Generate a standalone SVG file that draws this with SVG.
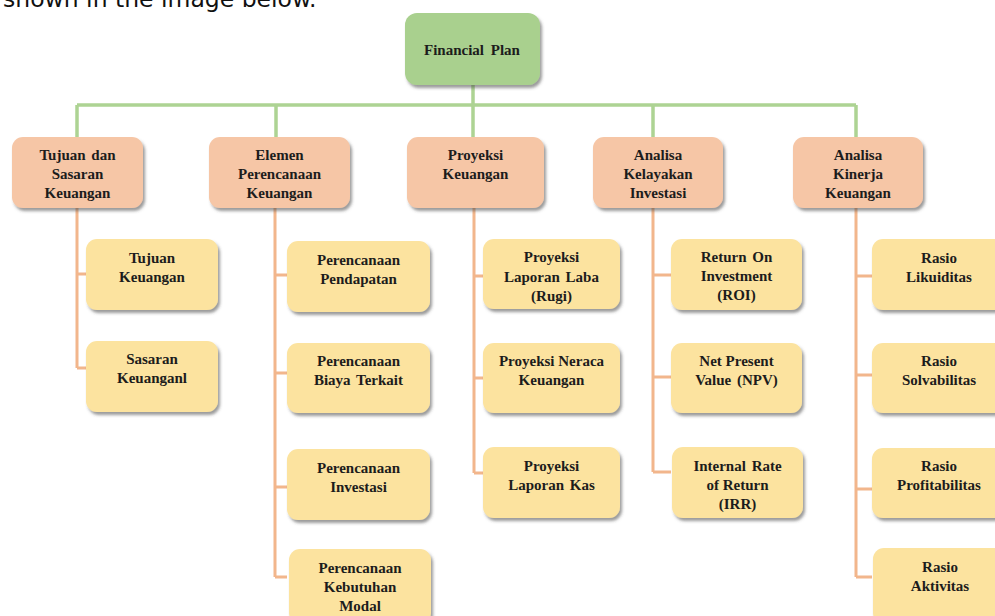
<svg xmlns="http://www.w3.org/2000/svg" width="995" height="616" viewBox="0 0 995 616">
<defs>
<filter id="sh" x="-10%" y="-10%" width="125%" height="130%">
<feDropShadow dx="2" dy="3" stdDeviation="1.6" flood-color="#4a4a4a" flood-opacity="0.55"/>
</filter>
<style>
.root{fill:#A9D08E;filter:url(#sh)}
.l1{fill:#F6C6A6;filter:url(#sh)}
.l2{fill:#FCE39F;filter:url(#sh)}
.t{font-family:"Liberation Serif","Times New Roman",serif;font-weight:bold;font-size:15px;fill:#1c1c1c;text-anchor:middle}
.g{stroke:#ADD393;stroke-width:3.5;fill:none}
.s{stroke:#F2B68C;stroke-width:3;fill:none}
.cap{font-family:"DejaVu Sans",Verdana,sans-serif;font-size:23.5px;fill:#111}
</style>
</defs>
<rect width="995" height="616" fill="#ffffff"/>
<text class="cap" x="3" y="7">shown in the image below.</text>

<g id="connectors">
<path class="g" d="M473 85V105M77 105H856M77 105V137M276 105V137M473 105V137M653 105V137M856 105V137"/>
<path class="s" d="M77 208V368M77 274H86M77 368H86"/>
<path class="s" d="M275 208V577M275 275H287M275 373H287M275 487H287M275 577H287"/>
<path class="s" d="M474 208V473M474 276H483M474 378H483M474 473H483"/>
<path class="s" d="M653 208V472M653 275H671M653 377H671M653 472H671"/>
<path class="s" d="M856 208V577M856 276H872M856 375H872M856 489H872M856 577H872"/>
</g>

<g id="financial-plan"><rect class="root" x="405" y="13" width="135" height="72" rx="12"/><text class="t" x="472" y="55" word-spacing="3">Financial Plan</text></g>

<g id="tujuan-sasaran"><rect class="l1" x="12" y="137" width="131" height="71" rx="11"/><text class="t" x="77.5" y="160" word-spacing="2">Tujuan dan</text><text class="t" x="77.5" y="179">Sasaran</text><text class="t" x="77.5" y="198">Keuangan</text></g>
<g id="elemen"><rect class="l1" x="209" y="137" width="141" height="71" rx="11"/><text class="t" x="279.5" y="160">Elemen</text><text class="t" x="279.5" y="179">Perencanaan</text><text class="t" x="279.5" y="198">Keuangan</text></g>
<g id="proyeksi"><rect class="l1" x="407" y="137" width="137" height="71" rx="11"/><text class="t" x="475.5" y="160">Proyeksi</text><text class="t" x="475.5" y="179">Keuangan</text></g>
<g id="kelayakan"><rect class="l1" x="593" y="137" width="130" height="71" rx="11"/><text class="t" x="658" y="160">Analisa</text><text class="t" x="658" y="179">Kelayakan</text><text class="t" x="658" y="198">Investasi</text></g>
<g id="kinerja"><rect class="l1" x="793" y="137" width="130" height="71" rx="11"/><text class="t" x="858" y="160">Analisa</text><text class="t" x="858" y="179">Kinerja</text><text class="t" x="858" y="198">Keuangan</text></g>

<g id="tujuan-keuangan"><rect class="l2" x="86" y="239" width="132" height="71" rx="11"/><text class="t" x="152" y="263">Tujuan</text><text class="t" x="152" y="282">Keuangan</text></g>
<g id="sasaran-keuangan"><rect class="l2" x="86" y="341" width="132" height="71" rx="11"/><text class="t" x="152" y="364">Sasaran</text><text class="t" x="152" y="383">Keuanganl</text></g>

<g id="pendapatan"><rect class="l2" x="287" y="241" width="143" height="71" rx="11"/><text class="t" x="358.5" y="265">Perencanaan</text><text class="t" x="358.5" y="284">Pendapatan</text></g>
<g id="biaya"><rect class="l2" x="287" y="343" width="143" height="70" rx="11"/><text class="t" x="358.5" y="366">Perencanaan</text><text class="t" x="358.5" y="385" word-spacing="2">Biaya Terkait</text></g>
<g id="investasi"><rect class="l2" x="287" y="449" width="143" height="71" rx="11"/><text class="t" x="358.5" y="473">Perencanaan</text><text class="t" x="358.5" y="492">Investasi</text></g>
<g id="modal"><rect class="l2" x="289" y="549" width="142" height="75" rx="11"/><text class="t" x="360" y="573">Perencanaan</text><text class="t" x="360" y="592">Kebutuhan</text><text class="t" x="360" y="611">Modal</text></g>

<g id="laba-rugi"><rect class="l2" x="483" y="239" width="137" height="70" rx="11"/><text class="t" x="551.5" y="262">Proyeksi</text><text class="t" x="551.5" y="282" word-spacing="2">Laporan Laba</text><text class="t" x="551.5" y="301">(Rugi)</text></g>
<g id="neraca"><rect class="l2" x="483" y="343" width="137" height="70" rx="11"/><text class="t" x="551.5" y="366">Proyeksi Neraca</text><text class="t" x="551.5" y="385">Keuangan</text></g>
<g id="kas"><rect class="l2" x="483" y="447" width="137" height="71" rx="11"/><text class="t" x="551.5" y="471">Proyeksi</text><text class="t" x="551.5" y="490" word-spacing="2">Laporan Kas</text></g>

<g id="roi"><rect class="l2" x="671" y="239" width="131" height="71" rx="11"/><text class="t" x="736.5" y="262" word-spacing="2">Return On</text><text class="t" x="736.5" y="281">Investment</text><text class="t" x="736.5" y="300">(ROI)</text></g>
<g id="npv"><rect class="l2" x="671" y="343" width="131" height="70" rx="11"/><text class="t" x="736.5" y="366">Net Present</text><text class="t" x="736.5" y="385" word-spacing="2">Value (NPV)</text></g>
<g id="irr"><rect class="l2" x="672" y="447" width="131" height="71" rx="11"/><text class="t" x="737.5" y="471" word-spacing="2">Internal Rate</text><text class="t" x="737.5" y="490">of Return</text><text class="t" x="737.5" y="509">(IRR)</text></g>

<g id="likuiditas"><rect class="l2" x="872" y="239" width="137" height="71" rx="11"/><text class="t" x="939" y="263">Rasio</text><text class="t" x="939" y="282">Likuiditas</text></g>
<g id="solvabilitas"><rect class="l2" x="872" y="343" width="137" height="70" rx="11"/><text class="t" x="939" y="366">Rasio</text><text class="t" x="939" y="385">Solvabilitas</text></g>
<g id="profitabilitas"><rect class="l2" x="872" y="448" width="137" height="70" rx="11"/><text class="t" x="939" y="471">Rasio</text><text class="t" x="939" y="490">Profitabilitas</text></g>
<g id="aktivitas"><rect class="l2" x="873" y="548" width="137" height="76" rx="11"/><text class="t" x="940" y="572">Rasio</text><text class="t" x="940" y="591">Aktivitas</text></g>
</svg>
